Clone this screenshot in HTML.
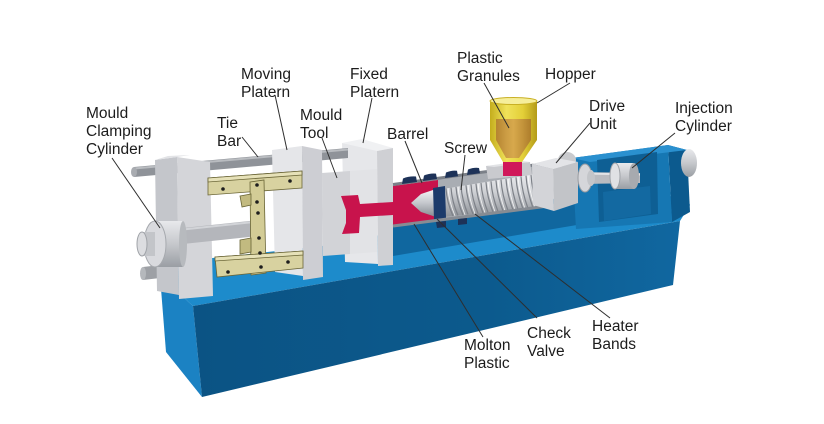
<!DOCTYPE html>
<html>
<head>
<meta charset="utf-8">
<style>
html,body{margin:0;padding:0;background:#ffffff;}
svg{display:block;}
text{font-family:"Liberation Sans",Arial,sans-serif;font-size:15.5px;fill:#1c1c1c;}
</style>
</head>
<body>
<svg width="824" height="424" viewBox="0 0 824 424" xmlns="http://www.w3.org/2000/svg">
<defs>
  <linearGradient id="gFront" x1="0" y1="0" x2="1" y2="0">
    <stop offset="0" stop-color="#0b5384"/>
    <stop offset="0.6" stop-color="#0c5a8d"/>
    <stop offset="1" stop-color="#1067a0"/>
  </linearGradient>
  <linearGradient id="gScrew" x1="0" y1="0" x2="0" y2="1">
    <stop offset="0" stop-color="#eeeff2"/>
    <stop offset="0.45" stop-color="#cfd1d5"/>
    <stop offset="1" stop-color="#8e9298"/>
  </linearGradient>
  <linearGradient id="gSilver" x1="0" y1="0" x2="0" y2="1">
    <stop offset="0" stop-color="#f6f6f8"/>
    <stop offset="0.5" stop-color="#c4c7cc"/>
    <stop offset="1" stop-color="#858a91"/>
  </linearGradient>
  <linearGradient id="gHop" x1="0" y1="0" x2="1" y2="0">
    <stop offset="0" stop-color="#c4ad1c"/>
    <stop offset="0.35" stop-color="#f0e25a"/>
    <stop offset="0.7" stop-color="#e3cf38"/>
    <stop offset="1" stop-color="#b39a18"/>
  </linearGradient>
  <linearGradient id="gGran" x1="0" y1="0" x2="1" y2="0">
    <stop offset="0" stop-color="#b07a30"/>
    <stop offset="0.5" stop-color="#d4a04c"/>
    <stop offset="1" stop-color="#a9742c"/>
  </linearGradient>
  <linearGradient id="gCap" x1="0" y1="0" x2="0" y2="1">
    <stop offset="0" stop-color="#e8e9ec"/>
    <stop offset="0.5" stop-color="#c6c8cc"/>
    <stop offset="1" stop-color="#9a9ea4"/>
  </linearGradient>
</defs>

<!-- ===== BASE ===== -->
<polygon points="160,276 193,306 202,397 166,352" fill="#1b82c3"/>
<polygon points="160,276 176,262 340,244 393,232 560,200 686,196 690,205 680,221 193,306" fill="#1d8bcb"/>
<polygon points="380,224 560,198 686,196 683,207 393,256 380,259" fill="#10679f"/>
<polygon points="193,306 680,221 673,285 202,397" fill="url(#gFront)"/>

<!-- ===== INJECTION HOUSING (right) ===== -->
<polygon points="668,145 687,150 690,212 672,222" fill="#0c5a8e"/>
<polygon points="572,158 668,145 672,222 576,229" fill="#1677b3"/>
<polygon points="572,158 668,145 687,150 590,162" fill="#2a90cf"/>
<polygon points="597,160 657,152 658,214 599,222" fill="#0e5f94"/>
<polygon points="603,192 650,186 651,214 604,221" fill="#1369a1"/>
<ellipse cx="689" cy="163" rx="8" ry="14" fill="url(#gCap)"/>

<!-- ===== FIXED PLATEN ===== -->
<polygon points="342,143 377,150 378,264 345,262" fill="#e6e7ea"/>
<polygon points="342,143 362,139 393,148 377,151" fill="#f0f1f3"/>
<polygon points="377,151 393,148 393,265 378,266" fill="#cfd0d4"/>

<!-- ===== TOP TIE BAR ===== -->
<polygon points="134,167 348,148 348,158 134,177" fill="#8f9399"/>
<line x1="134" y1="168.5" x2="348" y2="149.5" stroke="#b9bcc0" stroke-width="2"/>
<ellipse cx="134" cy="172" rx="3" ry="5" fill="#a9acb1"/>
<!-- lower tie bar stub -->
<polygon points="143,267 160,265 160,278 143,280" fill="#9da0a5"/>
<ellipse cx="143" cy="273.5" rx="3" ry="6.5" fill="#b5b8bc"/>

<!-- ===== LEFT PLATEN ===== -->
<polygon points="155,160 177,157 179,295 157,291" fill="#c4c6cb"/>
<polygon points="177,157 210,162 213,296 179,299" fill="#d4d5d9"/>
<polygon points="155,160 168,156 190,155 177,157" fill="#e2e3e6"/>

<!-- ===== MOVING PLATEN ===== -->
<polygon points="272,150 302,146 303,276 275,272" fill="#e5e6e9"/>
<polygon points="302,146 322,150 323,277 303,280" fill="#cdced3"/>

<!-- ===== MOULD TOOL ===== -->
<polygon points="322,173 350,171 350,254 323,256" fill="#d2d3d7"/>
<polygon points="350,171 377,169 377,252 350,254" fill="#e2e3e6"/>
<!-- red cavity + runner -->
<path d="M341,196 L358,195 L360,204 L393,202 L393,215 L360,217 L359,233 L342,234 L346,223 L346,210 Z" fill="#c8134c"/>

<!-- ===== PISTON ROD ===== -->
<polygon points="183,228 258,220 258,236 183,244" fill="#b4b6bb"/>
<line x1="183" y1="229.5" x2="258" y2="221.5" stroke="#d2d4d8" stroke-width="2"/>

<!-- ===== CLAMP CYLINDER ===== -->
<rect x="155" y="221" width="28" height="46" fill="url(#gCap)"/>
<ellipse cx="183" cy="244" rx="4" ry="23" fill="#b7babe"/>
<ellipse cx="155" cy="244" rx="11" ry="23" fill="#d9dade" stroke="#a6a9ae" stroke-width="1"/>
<rect x="142" y="232" width="13" height="24" fill="#c3c5c9"/>
<ellipse cx="142" cy="244" rx="5" ry="12" fill="#dcdde0" stroke="#a0a3a8" stroke-width="1"/>

<!-- ===== TOGGLE LINKAGE ===== -->
<g stroke="#6a6536" stroke-width="0.8">
  <polygon points="208,178 302,171 302,188 208,195" fill="#d8d2a0"/>
  <polygon points="208,178 302,171 302,175 208,182" fill="#e6e1b8"/>
  <polygon points="250,182 264,180 266,273 251,275" fill="#d3cc96"/>
  <polygon points="215,257 303,251 303,268 217,277" fill="#d8d2a0"/>
  <polygon points="215,257 303,251 303,255 215,261" fill="#e6e1b8"/>
  <polygon points="240,196 251,194 251,205 242,207" fill="#c2ba80"/>
  <polygon points="240,240 251,238 251,252 240,254" fill="#c2ba80"/>
</g>
<g fill="#1e1e1e">
  <circle cx="223" cy="189" r="1.8"/>
  <circle cx="257" cy="185" r="1.8"/>
  <circle cx="290" cy="181" r="1.8"/>
  <circle cx="257" cy="202" r="1.8"/>
  <circle cx="258" cy="213" r="1.8"/>
  <circle cx="259" cy="238" r="1.8"/>
  <circle cx="260" cy="253" r="1.8"/>
  <circle cx="261" cy="267" r="1.8"/>
  <circle cx="228" cy="272" r="1.8"/>
  <circle cx="288" cy="262" r="1.8"/>
</g>

<!-- ===== BARREL ===== -->
<polygon points="393,185 553,163 553,206 393,226" fill="#a9adb3"/>
<polygon points="393,186 438,180 438,220 393,225" fill="#c8134c"/>
<polygon points="443,189 553,171 553,206 443,217" fill="url(#gScrew)"/>
<path fill="none" stroke="#7d8188" stroke-width="1.2" d="
M446,188.5 Q447,203 453,216 M451,187.7 Q452,202 458,215.5 M456,186.9 Q457,201 463,215
M461,186.1 Q462,200 468,214.5 M466,185.3 Q467,200 473,214 M471,184.5 Q472,199 478,213.5
M476,183.7 Q477,198 483,213 M481,182.9 Q482,197 488,212.5 M486,182.1 Q487,197 493,212
M491,181.3 Q492,196 498,211.5 M496,180.5 Q497,195 503,211 M501,179.7 Q502,195 508,210.5
M506,178.9 Q507,194 513,210 M511,178.1 Q512,193 518,209.5 M516,177.3 Q517,193 523,209
M521,176.5 Q522,192 528,208.5 M526,175.7 Q527,191 533,208 M531,174.9 Q532,191 538,207.5
M536,174.1 Q537,190 543,207 M541,173.3 Q542,189 548,206.5 M546,172.5 Q547,189 553,206"/>
<path fill="none" stroke="#ffffff" stroke-width="0.9" opacity="0.8" d="
M448,188.2 Q449,202 455,215.8 M458,186.6 Q459,200 465,214.8 M468,185 Q469,199 475,213.8
M478,183.4 Q479,197 485,212.8 M488,181.8 Q489,196 495,211.8 M498,180.2 Q499,194 505,210.8
M508,178.6 Q509,193 515,209.8 M518,177 Q519,192 525,208.8 M528,175.4 Q529,190 535,207.8
M538,173.8 Q539,189 545,206.8"/>
<!-- nozzle tip -->
<polygon points="411,203 421,194 436,189 436,217 421,212" fill="url(#gSilver)"/>
<!-- check valve ring -->
<polygon points="433,188 445,186 446,218 434,220" fill="#1c3b6b"/>
<!-- barrel edges -->
<line x1="393" y1="184.5" x2="556" y2="162" stroke="#7b8088" stroke-width="3"/>
<line x1="393" y1="226" x2="556" y2="205" stroke="#878c93" stroke-width="3"/>
<!-- heater bands -->
<g fill="#1d3258">
  <path d="M402,184 L403,178.5 Q409,176 416,176.5 L417,182 Z"/>
  <path d="M423,181 L424,175.5 Q430,173 436,173.6 L437,179 Z"/>
  <path d="M445,178 L446,172.5 Q452,170 457,170.8 L458,176.2 Z"/>
  <path d="M467,175 L468,169.5 Q474,167.2 479,168 L480,173.2 Z"/>
  <path d="M436,222 L446,221 L446,227 L437,228 Z"/>
  <path d="M458,219 L467,218 L467,224 L458,225 Z"/>
</g>

<!-- ===== HOPPER ===== -->
<polygon points="486,166 530,162 532,175 488,179" fill="#c9cace"/>
<polygon points="486,166 522,161 530,162 494,167" fill="#e2e3e6"/>
<rect x="503" y="158" width="19" height="18" fill="#d0185a"/>
<polygon points="490,140 537,140 522,162 503,162" fill="url(#gHop)"/>
<rect x="490" y="101" width="47" height="39" fill="url(#gHop)"/>
<polygon points="496,119 531,119 531,140 519,158 506,158 496,140" fill="url(#gGran)" opacity="0.85"/>
<ellipse cx="513.5" cy="101" rx="23.5" ry="3.5" fill="#f6ee9a" stroke="#c9b024" stroke-width="1"/>

<!-- ===== DRIVE UNIT ===== -->
<ellipse cx="567" cy="160" rx="9" ry="8" fill="#c9cacd"/>
<polygon points="532,164 556,158 578,162 553,169" fill="#e3e4e7"/>
<polygon points="532,164 553,169 554,211 533,205" fill="#d3d4d8"/>
<polygon points="553,169 578,162 578,203 554,211" fill="#c2c4c8"/>

<!-- ===== INJECTION ROD ===== -->
<polygon points="580,172 640,173 640,183 580,184" fill="#b9bbc0"/>
<line x1="580" y1="173.5" x2="640" y2="174.5" stroke="#e2e3e6" stroke-width="2"/>
<ellipse cx="585" cy="178" rx="7" ry="14" fill="#d5d6da" stroke="#9a9ca1" stroke-width="1"/>
<ellipse cx="591" cy="178" rx="4" ry="8" fill="#c3c5c9"/>
<rect x="615" y="163" width="19" height="26" fill="url(#gCap)"/>
<ellipse cx="634" cy="176" rx="5" ry="13" fill="#a7aaaf"/>
<ellipse cx="615" cy="176" rx="5" ry="13" fill="#e0e1e4" stroke="#a0a3a8" stroke-width="1"/>

<!-- ===== LEADER LINES ===== -->
<g stroke="#2e2e2e" stroke-width="1" fill="none">
  <line x1="112" y1="158" x2="160" y2="228"/>
  <line x1="242" y1="137" x2="258" y2="157"/>
  <line x1="275" y1="95" x2="287" y2="150"/>
  <line x1="322" y1="138" x2="337" y2="178"/>
  <line x1="372" y1="98" x2="363" y2="143"/>
  <line x1="405" y1="141" x2="422" y2="183"/>
  <line x1="465" y1="155" x2="461" y2="190"/>
  <line x1="484" y1="83" x2="509" y2="128"/>
  <line x1="570" y1="83" x2="537" y2="103"/>
  <line x1="590" y1="123" x2="556" y2="163"/>
  <line x1="675" y1="133" x2="632" y2="168"/>
  <line x1="483" y1="337" x2="414" y2="224"/>
  <line x1="537" y1="318" x2="437" y2="219"/>
  <line x1="610" y1="318" x2="475" y2="214"/>
</g>

<!-- ===== LABELS ===== -->
<text x="86" y="118">Mould</text>
<text x="86" y="136">Clamping</text>
<text x="86" y="154">Cylinder</text>
<text x="217" y="128">Tie</text>
<text x="217" y="146">Bar</text>
<text x="241" y="79">Moving</text>
<text x="241" y="97">Platern</text>
<text x="300" y="120">Mould</text>
<text x="300" y="138">Tool</text>
<text x="350" y="79">Fixed</text>
<text x="350" y="97">Platern</text>
<text x="387" y="139">Barrel</text>
<text x="444" y="153">Screw</text>
<text x="457" y="63">Plastic</text>
<text x="457" y="81">Granules</text>
<text x="545" y="79">Hopper</text>
<text x="589" y="111">Drive</text>
<text x="589" y="129">Unit</text>
<text x="675" y="113">Injection</text>
<text x="675" y="131">Cylinder</text>
<text x="464" y="350">Molton</text>
<text x="464" y="368">Plastic</text>
<text x="527" y="338">Check</text>
<text x="527" y="356">Valve</text>
<text x="592" y="331">Heater</text>
<text x="592" y="349">Bands</text>
</svg>
</body>
</html>
